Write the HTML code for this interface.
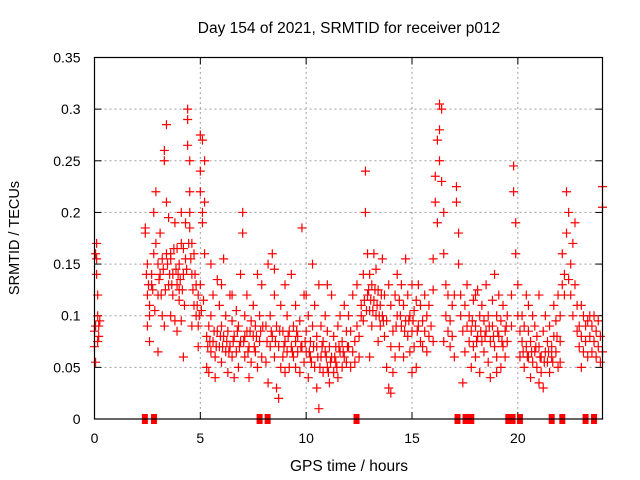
<!DOCTYPE html>
<html><head><meta charset="utf-8"><style>
body{margin:0;background:#fff;}
svg{display:block;font-family:"Liberation Sans",sans-serif;}
</style></head><body>
<svg id="chart" width="640" height="480" viewBox="0 0 640 480">
<text x="349" y="33" text-anchor="middle" font-size="15.5">Day 154 of 2021, SRMTID for receiver p012</text>
<text x="19" y="238" text-anchor="middle" font-size="14.5" transform="rotate(-90 19 238)">SRMTID / TECUs</text>
<text x="349" y="471" text-anchor="middle" font-size="15.5">GPS time / hours</text>
<g id="grid"></g>
<g id="ticks"></g>
<g id="marks"></g>
<g id="gaps"></g>
<rect x="94.5" y="57.5" width="508" height="361.5" fill="none" stroke="#000" stroke-width="1.2"/>
</svg>
<script>
const xTicks=[0,5,10,15,20];
const yTicks=[0,0.05,0.1,0.15,0.2,0.25,0.3,0.35];
const yTickLabels=["0","0.05","0.1","0.15","0.2","0.25","0.3","0.35"];
const gapHours=[2.38,2.81,7.8,8.18,12.38,17.15,17.53,17.8,19.55,19.75,20.1,21.6,22.1,23.2,23.6];
const obs=[[0.0,0.085],[0.0,0.07],[0.05,0.09],[0.1,0.17],[0.1,0.14],[0.15,0.12],[0.15,0.1],[0.2,0.08],[0.2,0.09],[0.05,0.055],[0.1,0.155],[0.15,0.075],[0.25,0.095],[0.05,0.16],
[2.4,0.185],[2.4,0.18],[2.5,0.15],[2.5,0.12],[2.6,0.11],[2.6,0.1],[2.7,0.13],[2.7,0.14],[2.8,0.16],[2.8,0.2],[2.9,0.22],[2.9,0.17],[3.0,0.065],[3.0,0.12],[3.1,0.18],[3.1,0.14],[3.2,0.155],[3.3,0.25],[3.3,0.26],[3.4,0.285],[3.4,0.21],[3.4,0.16],[3.5,0.195],[3.5,0.13],[3.6,0.1],[3.6,0.155],[3.7,0.14],[3.7,0.12],[3.8,0.19],[3.8,0.095],[3.9,0.165],[3.9,0.13],[4.0,0.15],[4.0,0.115],[4.1,0.2],[4.1,0.17],[4.2,0.06],[4.2,0.14],[4.3,0.19],[4.3,0.155],[4.4,0.3],[4.4,0.29],[4.4,0.265],[4.5,0.25],[4.5,0.22],[4.5,0.2],[4.5,0.185],[4.6,0.17],[4.6,0.14],[4.7,0.16],[4.7,0.11],[4.8,0.13],[4.8,0.1],[4.9,0.09],[4.9,0.12],[5.0,0.275],[5.0,0.24],[5.0,0.22],[5.1,0.27],[5.1,0.2],[5.1,0.19],[5.2,0.25],[5.2,0.21],[5.2,0.16],[4.0,0.125],[3.2,0.1],[2.6,0.075],[3.9,0.085],[4.6,0.09],[5.0,0.13],[4.2,0.165],[3.6,0.16],[3.0,0.15],[2.5,0.09],[4.9,0.07],
[2.45,0.14],[2.55,0.13],[2.75,0.125],[2.85,0.105],[3.05,0.135],[3.15,0.12],[3.25,0.145],[3.35,0.125],[3.45,0.15],[3.55,0.14],[3.65,0.13],[3.75,0.165],[3.85,0.145],[3.95,0.14],[4.05,0.135],[4.15,0.125],[4.25,0.11],[4.35,0.145],[4.45,0.17],[4.55,0.155],[4.65,0.125],[4.75,0.14],[4.85,0.11],[4.95,0.1],[5.05,0.105],[5.15,0.115],[3.3,0.09],[4.1,0.095],
[5.3,0.08],[5.3,0.05],[5.4,0.09],[5.4,0.045],[5.5,0.065],[5.5,0.1],[5.6,0.075],[5.6,0.12],[5.7,0.06],[5.7,0.04],[5.8,0.085],[5.8,0.135],[5.9,0.07],[5.9,0.11],[6.0,0.09],[6.0,0.055],[6.1,0.155],[6.1,0.08],[6.2,0.065],[6.2,0.1],[6.3,0.085],[6.3,0.045],[6.4,0.12],[6.4,0.07],[6.5,0.095],[6.5,0.06],[6.6,0.08],[6.6,0.04],[6.7,0.105],[6.7,0.065],[6.8,0.09],[6.8,0.05],[6.9,0.14],[6.9,0.075],[7.0,0.2],[7.0,0.18],[7.1,0.1],[7.1,0.06],[7.2,0.085],[7.2,0.12],[7.3,0.07],[7.3,0.04],[7.4,0.095],[7.4,0.055],[7.5,0.08],[7.5,0.11],[7.6,0.065],[7.6,0.09],[7.7,0.14],[7.7,0.05],[7.8,0.1],[7.8,0.075],[7.9,0.13],[7.9,0.06],[6.0,0.13],[5.5,0.15],[6.5,0.12],[7.1,0.08],
[5.35,0.07],[5.45,0.075],[5.65,0.085],[5.75,0.07],[5.95,0.08],[6.05,0.07],[6.25,0.075],[6.35,0.065],[6.55,0.075],[6.75,0.085],[6.85,0.07],[7.05,0.075],[7.25,0.065],[7.35,0.085],[7.55,0.07],[7.65,0.08],[7.85,0.085],[7.95,0.09],
[8.1,0.09],[8.1,0.055],[8.2,0.15],[8.2,0.035],[8.3,0.07],[8.3,0.1],[8.4,0.16],[8.4,0.08],[8.5,0.12],[8.5,0.06],[8.6,0.03],[8.6,0.09],[8.7,0.02],[8.7,0.07],[8.8,0.05],[8.8,0.11],[8.9,0.085],[8.9,0.06],[9.0,0.075],[9.0,0.13],[9.1,0.065],[9.1,0.1],[9.2,0.05],[9.2,0.085],[9.3,0.07],[9.3,0.14],[9.4,0.06],[9.4,0.09],[9.5,0.11],[9.5,0.05],[9.6,0.08],[9.6,0.065],[9.7,0.095],[9.7,0.045],[9.8,0.185],[9.8,0.07],[9.9,0.12],[9.9,0.055],[10.0,0.085],[10.0,0.065],[10.1,0.1],[10.1,0.04],[10.2,0.075],[10.2,0.06],[10.3,0.15],[10.3,0.09],[10.4,0.11],[10.4,0.05],[10.5,0.07],[10.5,0.03],[10.6,0.13],[10.6,0.01],[10.7,0.06],[10.7,0.09],[10.8,0.045],[10.8,0.075],[10.9,0.065],[10.9,0.1],[11.0,0.05],[11.0,0.085],[11.1,0.07],[11.1,0.035],[11.2,0.06],[11.2,0.12],[11.3,0.08],[11.3,0.045],[11.4,0.07],[11.4,0.055],[11.5,0.09],[11.5,0.04],[11.6,0.065],[11.6,0.1],[11.7,0.075],[11.7,0.05],[11.8,0.06],[11.8,0.11],[11.9,0.085],[11.9,0.055],[9.0,0.045],[9.5,0.075],[10.0,0.12],[10.5,0.08],[11.0,0.13],[8.5,0.145],
[8.15,0.075],[8.35,0.085],[8.55,0.075],[8.75,0.085],[8.95,0.07],[9.15,0.08],[9.35,0.065],[9.55,0.085],[9.75,0.07],[9.95,0.075],[10.15,0.065],[10.35,0.07],[10.55,0.06],[10.75,0.07],[10.95,0.06],[11.15,0.055],[11.35,0.06],[11.55,0.07],[11.75,0.065],[11.95,0.07],[10.25,0.055],[10.65,0.05],[11.05,0.045],[11.45,0.05],
[12.0,0.07],[12.0,0.1],[12.1,0.05],[12.1,0.085],[12.2,0.065],[12.2,0.12],[12.3,0.075],[12.3,0.055],[12.4,0.13],[12.4,0.09],[12.5,0.08],[12.5,0.06],[12.6,0.11],[12.6,0.1],[12.7,0.14],[12.7,0.095],[12.8,0.24],[12.8,0.2],[12.9,0.16],[12.9,0.12],[13.0,0.105],[13.0,0.14],[13.1,0.13],[13.1,0.09],[13.2,0.16],[13.2,0.115],[13.3,0.1],[13.3,0.145],[13.4,0.125],[13.4,0.075],[13.5,0.11],[13.5,0.09],[13.6,0.155],[13.6,0.1],[13.7,0.08],[13.7,0.12],[13.8,0.05],[13.8,0.095],[13.9,0.03],[13.9,0.13],[14.0,0.025],[14.0,0.11],[14.1,0.045],[14.1,0.085],[14.2,0.06],[14.2,0.12],[14.3,0.1],[14.3,0.14],[14.4,0.07],[14.4,0.115],[14.5,0.13],[14.5,0.09],[14.6,0.11],[14.6,0.06],[14.7,0.095],[14.7,0.155],[14.8,0.08],[14.8,0.12],[14.9,0.1],[14.9,0.065],[15.0,0.13],[15.0,0.085],[15.1,0.105],[15.1,0.07],[15.2,0.115],[15.2,0.05],[15.3,0.09],[15.3,0.13],[15.4,0.075],[15.4,0.11],[13.0,0.06],[14.0,0.07],[15.0,0.045],
[12.75,0.115],[12.85,0.105],[12.95,0.125],[13.05,0.115],[13.15,0.105],[13.25,0.125],[13.35,0.11],[13.45,0.1],[13.55,0.12],[13.65,0.095],[14.25,0.09],[14.45,0.1],[14.65,0.085],[14.85,0.095],[15.05,0.095],[15.25,0.085],
[15.5,0.095],[15.5,0.07],[15.6,0.12],[15.6,0.085],[15.7,0.1],[15.7,0.065],[15.8,0.08],[15.8,0.11],[15.9,0.09],[16.0,0.155],[16.0,0.125],[16.1,0.235],[16.1,0.21],[16.2,0.27],[16.2,0.19],[16.3,0.305],[16.3,0.28],[16.3,0.25],[16.4,0.3],[16.4,0.23],[16.5,0.2],[16.5,0.16],[16.6,0.13],[16.6,0.1],[16.7,0.085],[16.7,0.12],[16.8,0.095],[16.8,0.07],[16.9,0.11],[16.9,0.08],[17.0,0.06],[17.0,0.12],[16.0,0.075],[16.5,0.075],
[17.1,0.225],[17.1,0.21],[17.2,0.18],[17.2,0.15],[17.3,0.12],[17.3,0.1],[17.4,0.085],[17.4,0.035],[17.5,0.11],[17.5,0.065],[17.6,0.09],[17.6,0.13],[17.7,0.075],[17.7,0.1],[17.8,0.05],[17.8,0.085],[17.9,0.115],[17.9,0.07],[18.0,0.09],[18.0,0.06],[18.1,0.125],[18.1,0.08],[18.2,0.1],[18.2,0.045],[18.3,0.075],[18.3,0.11],[18.4,0.065],[18.4,0.095],[18.5,0.085],[18.5,0.13],[18.6,0.055],[18.6,0.1],[18.7,0.075],[18.7,0.04],[18.8,0.09],[18.8,0.115],[18.9,0.14],[18.9,0.07],[19.0,0.1],[19.0,0.06],[19.1,0.08],[19.1,0.12],[19.2,0.05],[19.2,0.095],[19.3,0.07],[19.3,0.11],[19.4,0.085],[19.4,0.06],[19.5,0.1],[19.5,0.075],[18.0,0.12],[19.0,0.045],
[17.85,0.095],[18.05,0.075],[18.25,0.085],[18.45,0.08],[18.65,0.09],[18.85,0.08],[19.05,0.085],[19.25,0.075],[19.45,0.09],
[19.7,0.12],[19.7,0.09],[19.8,0.245],[19.8,0.22],[19.9,0.19],[19.9,0.16],[20.0,0.13],[20.0,0.1],[20.1,0.085],[20.1,0.06],[20.2,0.075],[20.2,0.1],[20.3,0.05],[20.3,0.09],[20.4,0.07],[20.4,0.12],[20.5,0.06],[20.5,0.085],[20.6,0.04],[20.6,0.075],[20.7,0.1],[20.7,0.055],[20.8,0.065],[20.8,0.09],[20.9,0.05],[20.9,0.08],[21.0,0.07],[21.0,0.12],[21.1,0.045],[21.1,0.06],[21.2,0.085],[21.2,0.03],[21.3,0.065],[21.3,0.1],[21.4,0.055],[21.4,0.075],[21.5,0.09],[21.5,0.045],[21.6,0.06],[21.6,0.07],[21.7,0.11],[21.7,0.08],[21.8,0.065],[21.8,0.095],[21.9,0.05],[21.9,0.12],[20.5,0.11],[21.0,0.035],
[20.25,0.065],[20.45,0.06],[20.65,0.065],[20.85,0.07],[21.05,0.06],[21.25,0.055],[21.45,0.065],[21.65,0.055],[21.85,0.08],
[22.0,0.1],[22.0,0.075],[22.1,0.13],[22.1,0.16],[22.2,0.14],[22.2,0.12],[22.3,0.22],[22.3,0.18],[22.4,0.2],[22.4,0.135],[22.5,0.12],[22.5,0.15],[22.6,0.1],[22.6,0.17],[22.7,0.19],[22.7,0.13],[22.8,0.11],[22.8,0.085],[22.9,0.09],[22.9,0.07],[23.0,0.08],[23.0,0.11],[23.1,0.065],[23.1,0.1],[23.2,0.09],[23.2,0.075],[23.3,0.095],[23.3,0.06],[23.4,0.08],[23.4,0.1],[23.5,0.09],[23.5,0.065],[23.6,0.075],[23.6,0.1],[23.7,0.085],[23.7,0.06],[23.8,0.07],[23.8,0.095],[23.9,0.055],[23.9,0.08],[24.0,0.225],[24.0,0.205],[24.0,0.065],[22.0,0.055],[23.0,0.05]];

const NS='http://www.w3.org/2000/svg';
const X0=94.5,X1=602.5,Y0=419,Y1=57.5;
function xScale(h){return X0+(h/24)*(X1-X0);}
function yScale(v){return Y0-(v/0.35)*(Y0-Y1);}
function mk(tag,attrs,parent){const e=document.createElementNS(NS,tag);for(const k in attrs)e.setAttribute(k,attrs[k]);parent.appendChild(e);return e;}
const grid=document.getElementById('grid'),ticks=document.getElementById('ticks'),marks=document.getElementById('marks'),gaps=document.getElementById('gaps');
yTicks.forEach((v,i)=>{
  const y=yScale(v);
  if(i>0&&i<yTicks.length-1){const g=mk('line',{x1:X0,x2:X1,y1:y,y2:y,stroke:'#a0a0a0','stroke-dasharray':'2,3'},grid);
  
  }
  const t=mk('line',{x1:X0,x2:X0+7,y1:y,y2:y,stroke:'#000'},ticks);
  
  
  const t2=mk('line',{x1:X1,x2:X1-7,y1:y,y2:y,stroke:'#000'},ticks);
  
  
  const l=mk('text',{x:X0-14,y:y+5,'text-anchor':'end','font-size':'14'},ticks);
  l.textContent=yTickLabels[i];
  
  
});
xTicks.forEach(h=>{
  const x=xScale(h);
  if(h>0){const g=mk('line',{x1:x,x2:x,y1:Y0,y2:Y1,stroke:'#a0a0a0','stroke-dasharray':'2,3'},grid);
  
  }
  const t=mk('line',{x1:x,x2:x,y1:Y0,y2:Y0-7,stroke:'#000'},ticks);
  
  
  const t2=mk('line',{x1:x,x2:x,y1:Y1,y2:Y1+7,stroke:'#000'},ticks);
  
  
  const l=mk('text',{x:x,y:443,'text-anchor':'middle','font-size':'14'},ticks);
  l.textContent=String(h);
  
  
});
obs.forEach(p=>{
  const x=xScale(p[0]),y=yScale(p[1]);
  const m=mk('path',{d:`M${x-4.5},${y}h9M${x},${y-4.5}v9`,stroke:'#ff0000','stroke-width':'1.2',fill:'none'},marks);
  
  
});
gapHours.forEach(h=>{
  const x=xScale(h);
  const r=mk('rect',{x:x-3,y:Y0-5,width:6,height:10,fill:'#ff0000'},gaps);
  
  
});
</script>
</body></html>
